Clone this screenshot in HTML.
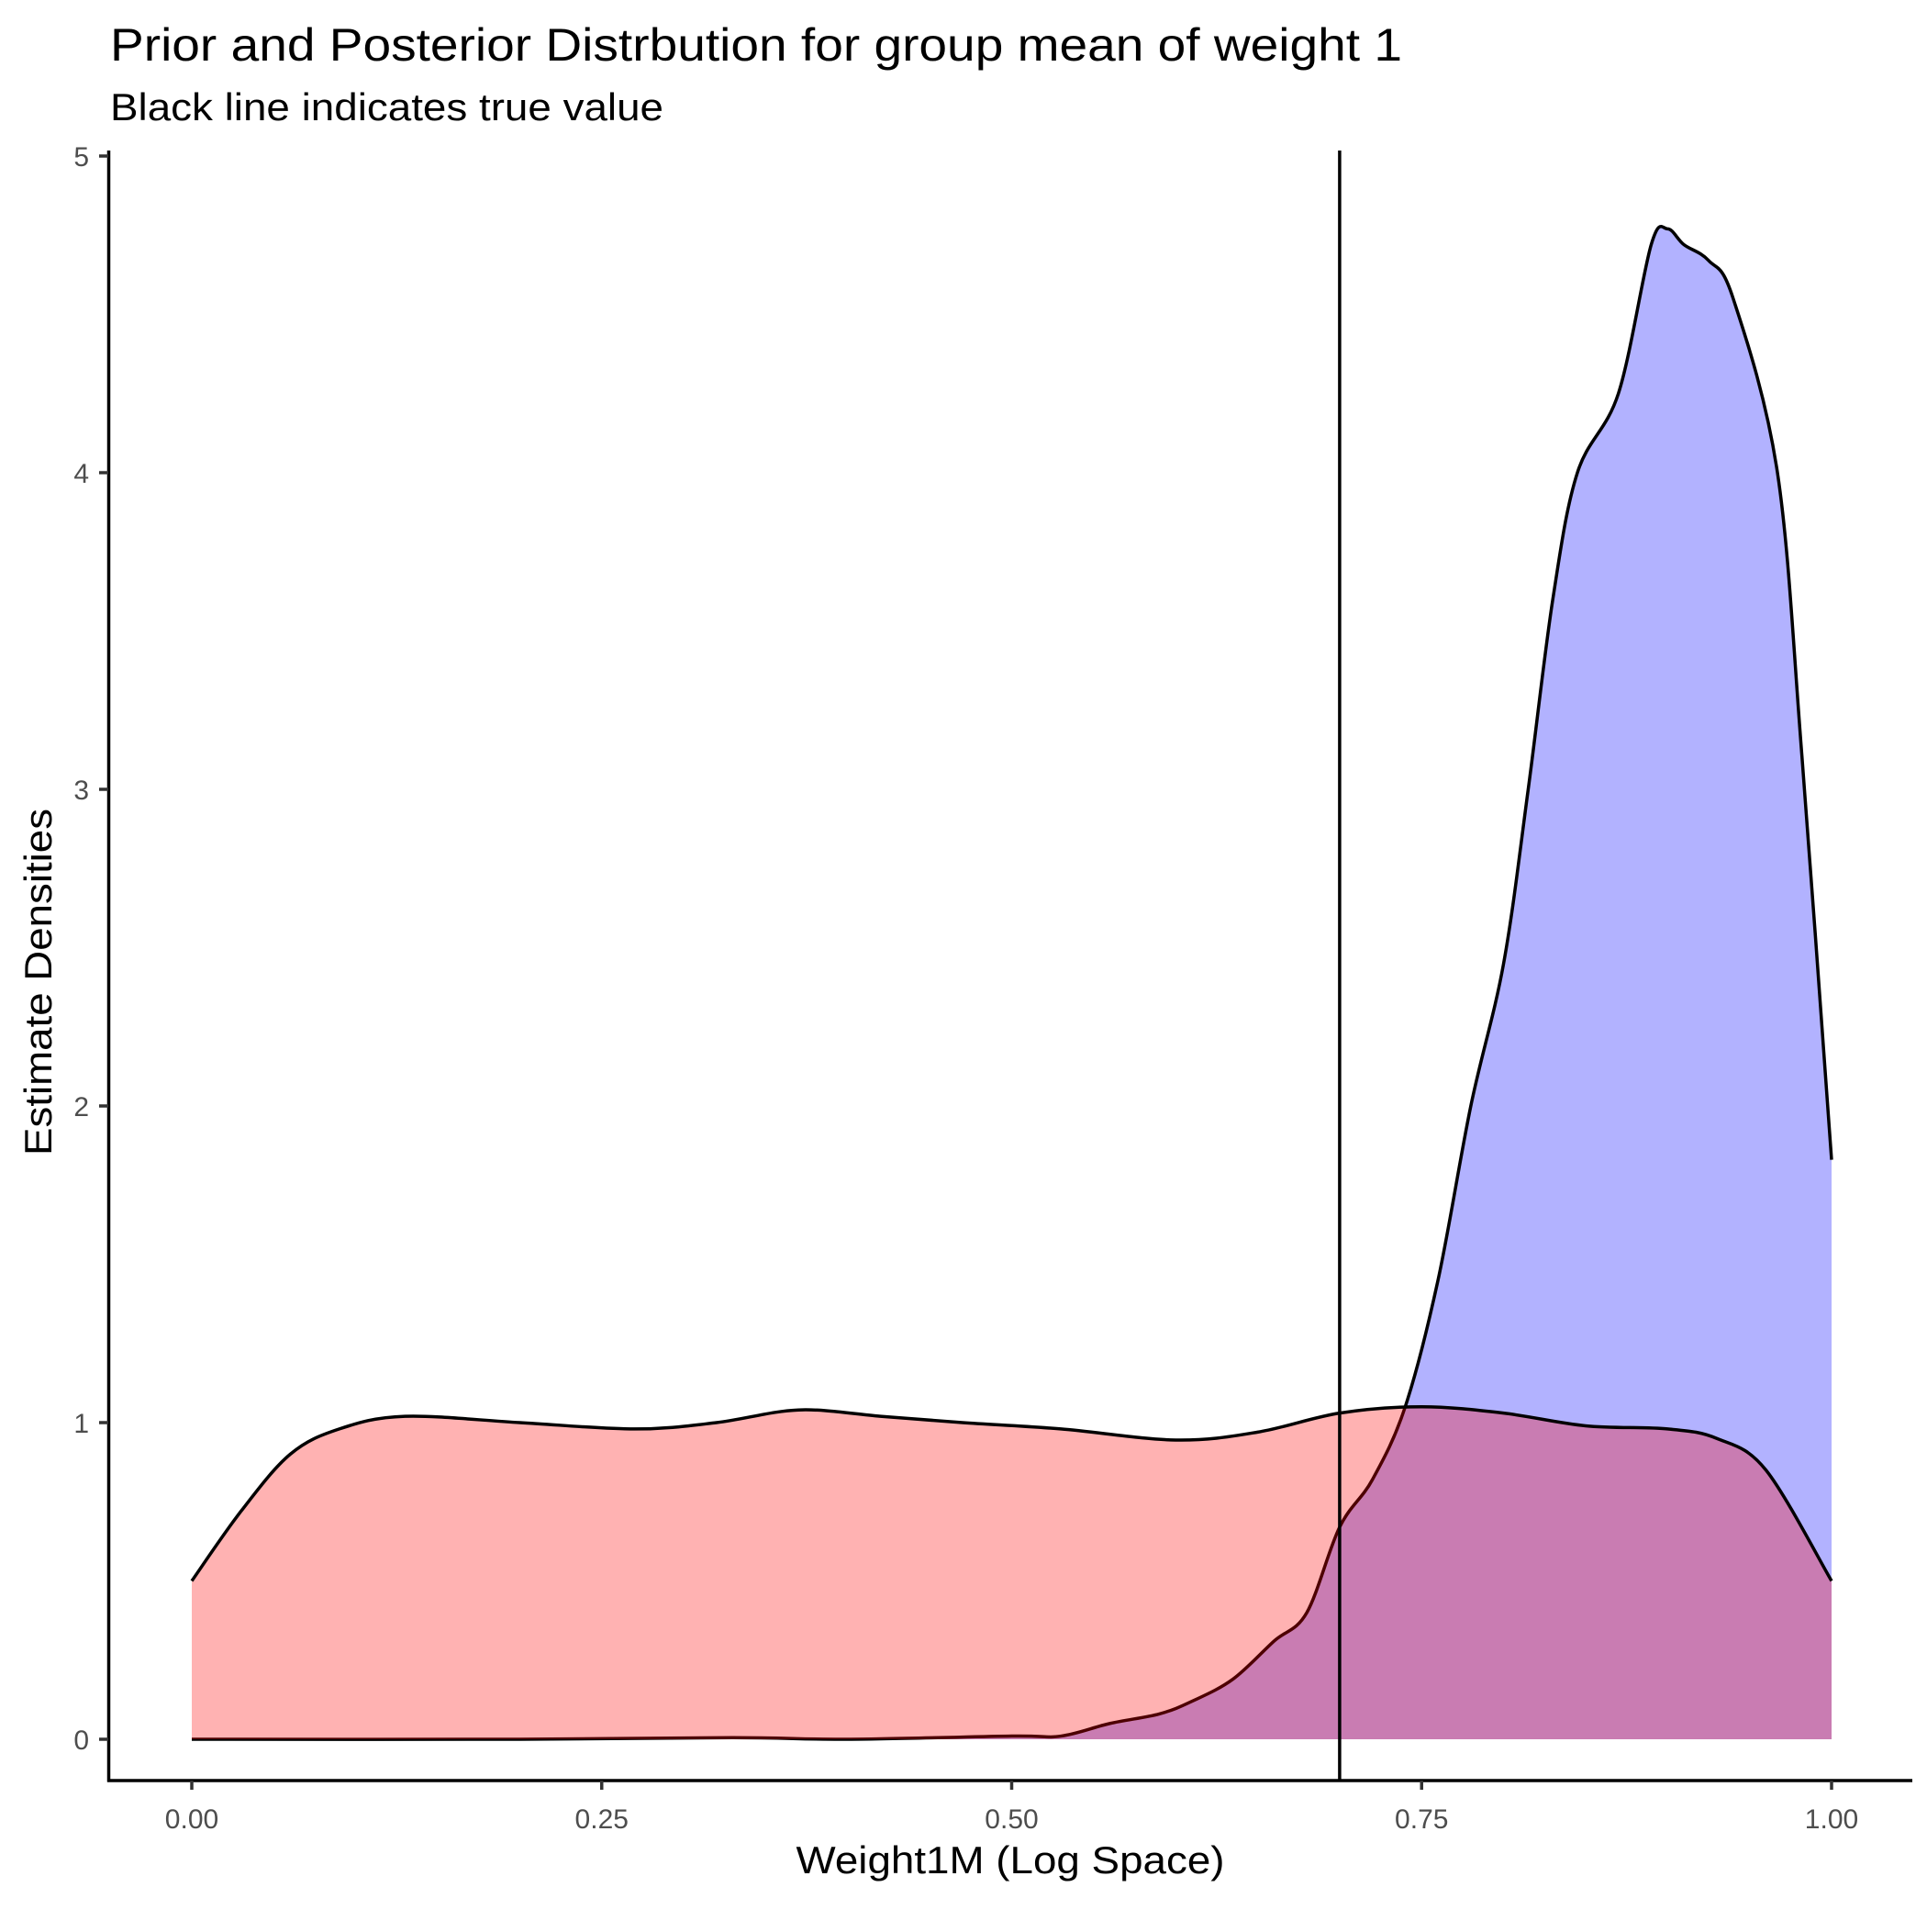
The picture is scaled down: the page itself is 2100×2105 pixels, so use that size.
<!DOCTYPE html>
<html><head><meta charset="utf-8"><style>
body{margin:0;background:#fff}
svg text{font-family:"Liberation Sans",sans-serif}
</style></head><body>
<svg id="chart" width="2100" height="2100" viewBox="0 0 2100 2100" xmlns="http://www.w3.org/2000/svg">
<text x="120" y="66" font-size="50" textLength="1408" lengthAdjust="spacingAndGlyphs" fill="#000">Prior and Posterior Distrbution for group mean of weight 1</text>
<text x="120" y="131" font-size="42" textLength="603" lengthAdjust="spacingAndGlyphs" fill="#000">Black line indicates true value</text>
<g id="plot"></g>
<text x="1101" y="2041" font-size="42" text-anchor="middle" textLength="467" lengthAdjust="spacingAndGlyphs" fill="#000">Weight1M (Log Space)</text>
<text transform="translate(56,1070) rotate(-90)" font-size="42" text-anchor="middle" textLength="378" lengthAdjust="spacingAndGlyphs" fill="#000">Estimate Densities</text>
</svg>
<script>
const xTicks=[0,0.25,0.5,0.75,1];
const xTickLabels=["0.00","0.25","0.50","0.75","1.00"];
const yTicks=[0,1,2,3,4,5];
const yTickLabels=["0","1","2","3","4","5"];
const trueValue=0.70;
const priorX=[0,0.03,0.06,0.09,0.13,0.2,0.27,0.32,0.37,0.42,0.47,0.53,0.6,0.65,0.7,0.75,0.8,0.85,0.9,0.93,0.96,1.0];
const priorY=[0.5,0.72,0.9,0.98,1.02,1.0,0.98,1.0,1.04,1.02,1.0,0.98,0.945,0.97,1.03,1.05,1.03,0.99,0.98,0.95,0.85,0.5];
const postX=[0,0.2,0.33,0.4,0.5,0.53,0.56,0.59,0.61,0.635,0.66,0.68,0.7,0.72,0.74,0.76,0.78,0.8,0.815,0.83,0.845,0.87,0.89,0.9,0.91,0.925,0.94,0.967,0.982,1.0];
const postY=[0,0,0.005,0,0.01,0.01,0.05,0.08,0.12,0.19,0.31,0.4,0.67,0.82,1.05,1.45,2.0,2.45,3.0,3.6,4.0,4.25,4.72,4.77,4.72,4.67,4.55,4.0,3.1,1.83];
const X=v=>209+v*1787;
const Y=v=>1895-v*345;
const NS="http://www.w3.org/2000/svg";
const plot=document.getElementById('plot');
function mk(t,a){const e=document.createElementNS(NS,t);for(const k in a)e.setAttribute(k,a[k]);plot.appendChild(e);return e;}
function curve(xs,ys){const p=xs.map((x,i)=>[X(x),Y(ys[i])]);let d="M"+p[0][0]+","+p[0][1];
for(let i=0;i<p.length-1;i++){const p0=p[Math.max(0,i-1)],p1=p[i],p2=p[i+1],p3=p[Math.min(p.length-1,i+2)];
d+=" C"+(p1[0]+(p2[0]-p0[0])/6)+","+(p1[1]+(p2[1]-p0[1])/6)+" "+(p2[0]-(p3[0]-p1[0])/6)+","+(p2[1]-(p3[1]-p1[1])/6)+" "+p2[0]+","+p2[1];}
return d;}
function series(xs,ys,fill,name){
const c=curve(xs,ys);
const a=mk('path',{d:c+" L"+X(xs[xs.length-1])+","+Y(0)+" L"+X(xs[0])+","+Y(0)+" Z",fill:fill,'fill-opacity':0.3});


const l=mk('path',{d:c,fill:'none',stroke:'#000','stroke-width':3.5});


}
series(postX,postY,'#0000ff','posterior-density');
series(priorX,priorY,'#ff0000','prior-density');
const v=mk('line',{x1:X(trueValue),x2:X(trueValue),y1:164,y2:1940,stroke:'#000','stroke-width':3.5});


const ya=mk('line',{x1:118.5,x2:118.5,y1:164,y2:1941.5,stroke:'#000','stroke-width':3.5});


const xa=mk('line',{x1:117,x2:2084,y1:1940,y2:1940,stroke:'#000','stroke-width':3.5});


xTicks.forEach((t,i)=>{
const tk=mk('line',{x1:X(t),x2:X(t),y1:1940,y2:1950,stroke:'#333','stroke-width':3.5});


const tx=mk('text',{x:X(t),y:1992,'font-size':30,'text-anchor':'middle',fill:'#4d4d4d'});
tx.textContent=xTickLabels[i];


});
yTicks.forEach((t,i)=>{
const tk=mk('line',{x1:108,x2:118,y1:Y(t),y2:Y(t),stroke:'#333','stroke-width':3.5});


const tx=mk('text',{x:97,y:Y(t)+11,'font-size':30,'text-anchor':'end',fill:'#4d4d4d'});
tx.textContent=yTickLabels[i];


});
</script>
</body></html>
